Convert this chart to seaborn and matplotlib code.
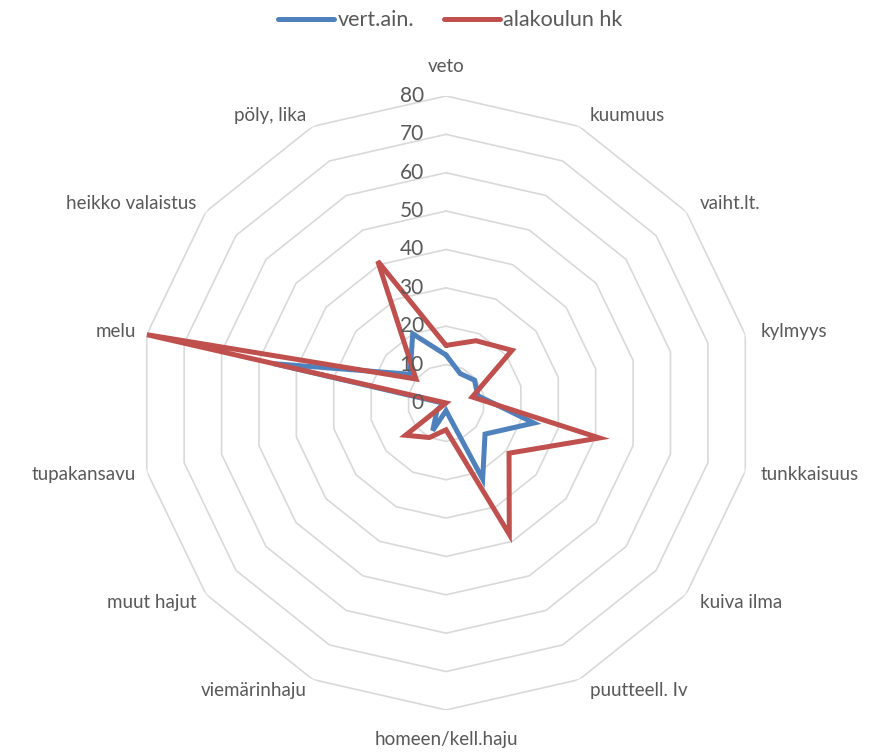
import numpy as np
import pandas as pd
import matplotlib
matplotlib.use('Agg')
import matplotlib.pyplot as plt
import seaborn as sns

categories = ['veto', 'kuumuus', 'vaiht.lt.', 'kylmyys', 'tunkkaisuus', 'kuiva ilma',
              'puutteell. Iv', 'homeen/kell.haju', 'viemärinhaju', 'muut hajut',
              'tupakansavu', 'melu', 'heikko valaistus', 'pöly, lika']
vert_ain = [12.5, 8.5, 9.5, 8.5, 23.5, 13, 22, 2, 8, 3, 0.5, 46, 12, 20]
alakoulu = [15, 18, 22, 7, 41, 21, 38, 7, 10, 13.5, 0, 80, 10, 41]
ring_values = [10, 20, 30, 40, 50, 60, 70, 80]
tick_labels = ['0', '10', '20', '30', '40', '50', '60', '70', '80']
series_names = ['vert.ain.', 'alakoulun hk']
colors = ['#4F81BD', '#C0504D']

sns.set_style('white')
plt.rcParams['font.family'] = ['Lato', 'DejaVu Sans']
text_col = '#595959'

n = len(categories)
theta = np.arange(n) * 2 * np.pi / n
theta_closed = np.append(theta, 2 * np.pi)

fig = plt.figure(figsize=(8.8, 7.52), dpi=100)
ax = fig.add_axes([0.158, 0.0559, 0.6977, 0.8165], projection='polar')
ax.set_theta_zero_location('N')
ax.set_theta_direction(-1)
ax.grid(False)
ax.spines['polar'].set_visible(False)
ax.set_xticks([])
ax.set_yticks([])

# polygon gridlines
for rv in ring_values:
    ax.plot(theta_closed, [rv] * (n + 1), color='#D9D9D9', lw=1.2, zorder=1)

# series
for name, vals, c in zip(series_names, [vert_ain, alakoulu], colors):
    df = pd.DataFrame({'theta': theta_closed, 'value': list(vals) + [vals[0]]})
    sns.lineplot(data=df, x='theta', y='value', sort=False, estimator=None,
                 color=c, lw=3.6, ax=ax, label=name, zorder=3)
for ln in ax.get_lines():
    ln.set_solid_joinstyle('miter')
ax.set_xlabel('')
ax.set_ylabel('')
ax.set_ylim(0, 80)

# radial tick labels
for i, lab in enumerate(tick_labels):
    ax.annotate(lab, xy=(0, i * 10), xytext=(-16, 0), textcoords='offset points',
                ha='right', va='center', fontsize=15, color=text_col, zorder=4)

# category labels
for t, lab in zip(theta, categories):
    s, c = np.sin(t), np.cos(t)
    if abs(s) < 0.05:
        ha = 'center'
        off = (0, 21 * np.sign(c))
    elif s > 0:
        ha = 'left'
        off = (5 + 6 * s, 9 * c)
    else:
        ha = 'right'
        off = (-2 + 6 * s, 9 * c)
    ax.annotate(lab, xy=(t, 80), xytext=off, textcoords='offset points',
                ha=ha, va='center', fontsize=13.5, color=text_col)

ax.legend_.remove()
handles = ax.get_lines()[-2:]
fig.legend(handles, series_names, loc='upper center', bbox_to_anchor=(0.512, 1.012),
           ncol=2, frameon=False, fontsize=15.5, handlelength=2.6, handletextpad=0.15,
           columnspacing=1.4, labelcolor=text_col)

fig.savefig('out.png', dpi=100)
